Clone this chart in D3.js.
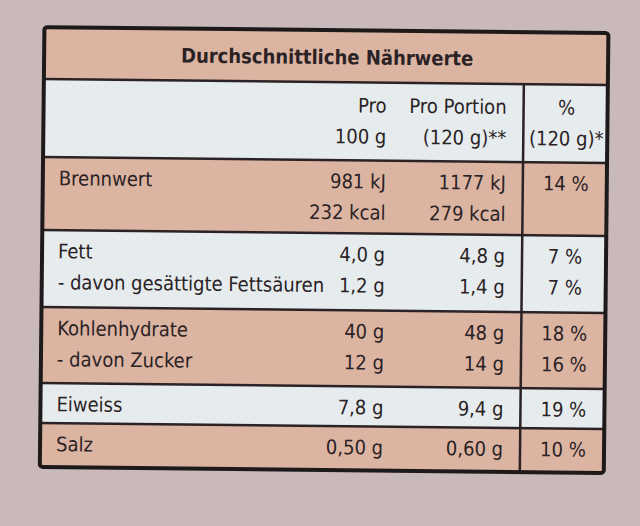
<!DOCTYPE html><html><head><meta charset="utf-8"><script src="https://cdn.jsdelivr.net/npm/d3@7"></script>
<style>body{margin:0;background:#c8b8b9}text{font-family:"DejaVu Sans Condensed","DejaVu Sans";font-stretch:condensed;fill:#2a2224}</style></head><body>
<script>
const title="Durchschnittliche Nährwerte";
const colHeads=[["Pro","100 g"],["Pro Portion","(120 g)**"],["%","(120 g)*"]];
const nutrients=[["Brennwert",""],["Fett","- davon gesättigte Fettsäuren"],["Kohlenhydrate","- davon Zucker"],["Eiweiss"],["Salz"]];
const per100=[["981 kJ","232 kcal"],["4,0 g","1,2 g"],["40 g","12 g"],["7,8 g"],["0,50 g"]];
const perPortion=[["1177 kJ","279 kcal"],["4,8 g","1,4 g"],["48 g","14 g"],["9,4 g"],["0,60 g"]];
const percent=[["14 %"],["7 %","7 %"],["18 %","16 %"],["19 %"],["10 %"]];
const rowBounds=[30,82,160,233,310,386,426,470];
const fills=["#dcb4a2","#e6ecee","#dcb4a2","#e6ecee","#dcb4a2","#e6ecee","#dcb4a2"];
const W=640,H=526;
const svg=d3.select("body").append("svg").attr("width",W).attr("height",H);
svg.append("rect").attr("width",W).attr("height",H).attr("fill","#c9b9ba");
const x=d3.scaleLinear().domain([0,1]).range([42,606]);
const y=d3.scaleLinear().domain([0,7]).range([30,470]);
const g=svg.append("g").attr("transform","rotate(0.6,320,260)");
rowBounds.slice(0,-1).forEach((b,i)=>g.append("rect").attr("x",x(0)).attr("width",x(1)-x(0)).attr("y",b).attr("height",rowBounds[i+1]-b).attr("fill",fills[i]));
rowBounds.slice(1,-1).forEach(b=>g.append("line").attr("x1",x(0)).attr("x2",x(1)).attr("y1",b).attr("y2",b).attr("stroke","#2a2224").attr("stroke-width",2.5));
g.append("line").attr("x1",522).attr("x2",522).attr("y1",82).attr("y2",470).attr("stroke","#2a2224").attr("stroke-width",2.5);
g.append("rect").attr("x",x(0)).attr("y",30).attr("width",x(1)-x(0)).attr("height",440).attr("fill","none").attr("stroke","#1e1a1b").attr("stroke-width",4).attr("rx",3);
const fs=20;
g.append("text").attr("x",325).attr("y",64).attr("text-anchor","middle").attr("font-size",fs).attr("font-weight","bold").text(title);
const colX=[385,505,565],anchors=["end","end","middle"];
colHeads.forEach((c,i)=>c.forEach((t,j)=>g.append("text").attr("x",colX[i]).attr("y",112+j*31).attr("text-anchor",anchors[i]).attr("font-size",fs).text(t)));
const lineGap=31;
nutrients.forEach((n,r)=>{
  const top=rowBounds[r+2]+28;
  n.forEach((t,j)=>g.append("text").attr("x",58).attr("y",top+j*lineGap).attr("font-size",fs).text(t));
  [per100,perPortion,percent].forEach((arr,c)=>arr[r].forEach((t,j)=>g.append("text").attr("x",colX[c]).attr("y",top+j*lineGap).attr("text-anchor",anchors[c]).attr("font-size",fs).text(t)));
});
</script></body></html>
